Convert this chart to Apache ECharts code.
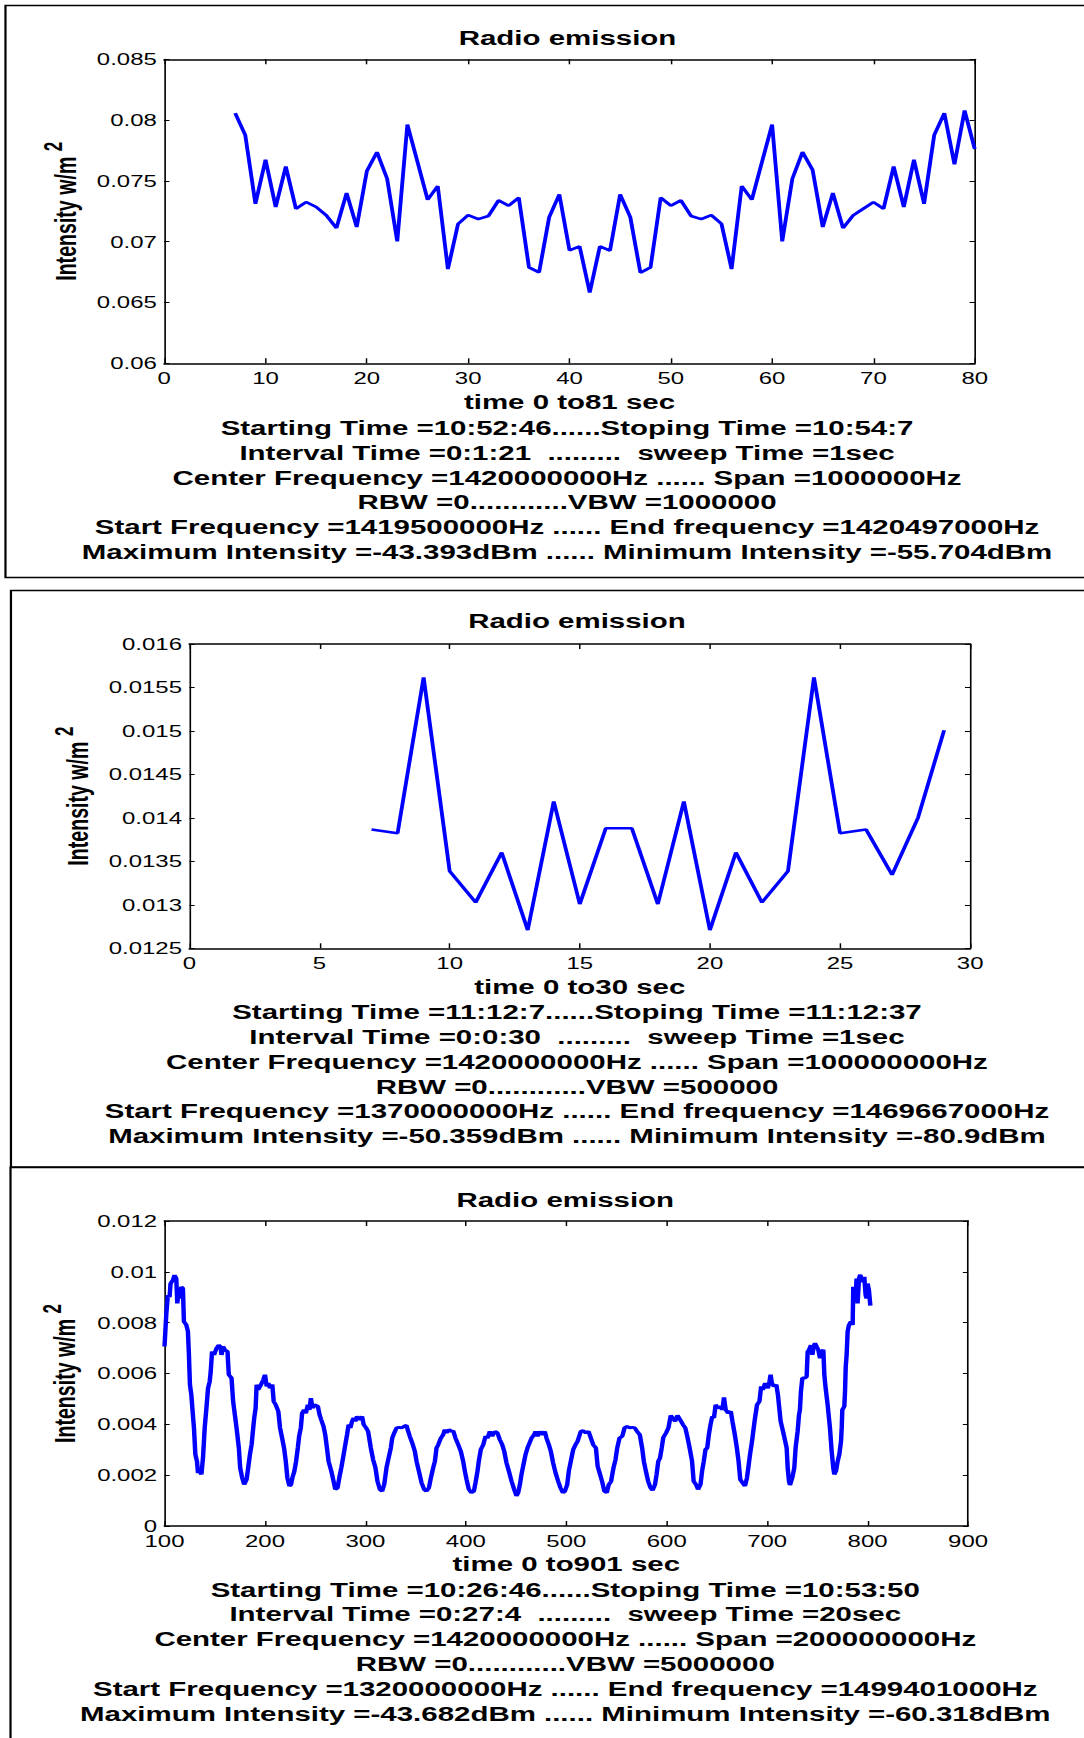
<!DOCTYPE html>
<html><head><meta charset="utf-8">
<script src="https://cdn.jsdelivr.net/npm/echarts@6/dist/echarts.min.js"></script>
<style>
html,body{margin:0;padding:0;background:#fff;overflow:hidden;}
#chart{width:732px;height:1738px;transform:scaleX(1.4809);transform-origin:0 0;}
</style></head><body><div id="chart"></div>
<script>
// ---------- DATA ----------
const p1Time = [7,8,9,10,11,12,13,14,15,16,17,18,19,20,21,22,23,24,25,26,27,28,29,30,31,32,33,34,35,36,37,38,39,40,41,42,43,44,45,46,47,48,49,50,51,52,53,54,55,56,57,58,59,60,61,62,63,64,65,66,67,68,69,70,71,72,73,74,75,76,77,78,79,80];
const p1Intensity = [0.08058,0.07877,0.07312,0.07674,0.07285,0.07619,0.07271,0.07326,0.07285,0.07216,0.07112,0.07400,0.07121,0.07581,0.07737,0.07518,0.07003,0.07964,0.07655,0.07345,0.07458,0.06775,0.07145,0.07219,0.07186,0.07211,0.07340,0.07296,0.07362,0.06789,0.06748,0.07203,0.07389,0.06929,0.06962,0.06581,0.06962,0.06926,0.07389,0.07203,0.06745,0.06789,0.07362,0.07296,0.07340,0.07211,0.07186,0.07219,0.07148,0.06775,0.07458,0.07345,0.07655,0.07964,0.07003,0.07518,0.07737,0.07589,0.07121,0.07400,0.07112,0.07216,0.07271,0.07326,0.07271,0.07619,0.07285,0.07674,0.07312,0.07877,0.08058,0.07636,0.08079,0.07762];

const p2Time = [7,8,9,10,11,12,13,14,15,16,17,18,19,20,21,22,23,24,25,26,27,28,29];
const p2Intensity = [0.013866,0.013824,0.015617,0.013387,0.013027,0.013602,0.012709,0.014188,0.013008,0.013881,0.013881,0.013008,0.014188,0.012709,0.013602,0.013027,0.013387,0.015617,0.013824,0.013866,0.013345,0.014004,0.015008];

const p3Time = [100,101.7,103.3,105,106,108.3,110,111.7,112.7,114,115.3,116.7,118.3,119.3,121.7,123.3,124.3,125.3,126.7,127.7,129.3,130.7,132.3,133.3,135,136.7,138.3,140,141.7,143.3,145,146,147.3,149.3,151.7,154,155.7,156.7,158.3,160,162.7,164,166.7,168.3,170,171.7,174,175.3,177.3,179.3,181.7,183.3,185,186.7,188.3,189.3,190.7,191.7,193.3,196,198.3,200,201.7,203.3,205,207.3,208.7,210.7,213.3,215,216.7,219,220.7,222.3,224.3,226,227.3,229.3,231,232.7,234,235.7,237,239,240.7,242.7,244.3,245.7,247.3,249.3,252.7,254.3,256,258.3,260,261.7,263.3,266,268.3,270,272.3,274,276,278.3,280,281.7,283.3,285,286.7,288.3,290,291.7,294,296.7,298.3,300.7,302.7,305.4,307.7,310,312,314.4,316.7,318.7,321,322.7,325.3,326.7,328.7,331,333.6,336,338.6,340.9,342.6,344.2,346.6,349.2,350.9,353.2,355.9,358.5,360.8,363.2,365.2,367.5,369.2,370.8,372.5,375.1,377.4,379.1,380.8,383.1,385.7,387.4,389.7,392.4,395,397.3,399,400.7,403,405.6,408,409.6,411.6,412.9,414.9,417.3,419.6,421.6,423.9,426.2,428.9,431.5,433.8,436.2,438.2,440.5,442.8,445.5,448.1,450.4,452.1,453.8,455.4,457.7,459.4,461.4,462.7,465.4,468,469.4,471.3,473.7,476,478.6,480.3,482.6,484.6,486.9,489.3,491.9,494.2,496.6,498.6,500.9,502.5,504.5,506.9,509.2,511.2,514.4,516.8,519.5,522.1,524.5,526.8,529.5,531.2,533.6,535.6,537.9,540.3,542.3,544.6,547,549,550.7,553,555.7,558,560.4,563.1,565.8,568.1,570.5,573.2,575.5,577.2,579.2,581.5,583.9,585.9,588.3,589.9,591.6,593.3,595,596.6,599.3,601.7,604,606,608.4,610.7,613.4,616.1,618.5,620.8,622.8,625.2,626.8,629.2,631.2,633.6,635.2,636.9,638.6,640.3,641.9,643.6,645.3,647,648.7,651,653.7,655.4,657,658.7,661.1,663.8,665.4,667.8,669.8,671.5,673.2,675.5,677.9,679.9,681.2,682.9,684.9,686.6,687.9,689.9,692.3,694,695.6,698,700.7,702.3,703.4,704.7,706.7,709.1,710.7,713.4,715.8,719.4,720.4,721.7,722.7,725,727,728.3,730.3,731.7,732.6,733.6,735,737.6,739.3,740.3,741.6,743.6,745,746.3,747.6,749.2,750.9,752.6,754.2,755.9,756.9,758.2,760.2,761.5,762.5,764.2,765.8,766.8,768.5,770.2,771.8,773.5,774.2,774.8,776.8,777.5,778.2,779.1,780.1,781.4,783.4,785.1,785.7,786.7,788.1,789,790,791.4,792.7,794,795.4,796.7,798,799,800,801.3,802.7];
const p3Intensity = [0.00706,0.0083,0.00908,0.0090,0.00954,0.00967,0.00987,0.00974,0.00876,0.00921,0.00895,0.00941,0.00935,0.00804,0.00791,0.00765,0.00673,0.00556,0.00516,0.00464,0.00386,0.00281,0.00255,0.00209,0.00216,0.00203,0.00268,0.00386,0.00464,0.00542,0.00569,0.00608,0.00686,0.00673,0.00699,0.00712,0.00706,0.00673,0.00706,0.00693,0.00686,0.00595,0.00582,0.0049,0.00438,0.00386,0.00307,0.00229,0.0019,0.00163,0.00183,0.00229,0.00281,0.0032,0.00386,0.00425,0.00464,0.00556,0.00536,0.00556,0.00575,0.00595,0.00549,0.00562,0.00542,0.00556,0.0049,0.00477,0.00451,0.00386,0.00353,0.00307,0.00255,0.0019,0.00157,0.00163,0.0019,0.00216,0.00255,0.00307,0.00353,0.00386,0.00444,0.00457,0.00444,0.00477,0.00457,0.00503,0.00464,0.00477,0.0047,0.00438,0.00418,0.00392,0.00359,0.00307,0.00255,0.00216,0.00176,0.00144,0.0015,0.0019,0.00229,0.00281,0.0032,0.00359,0.00399,0.00386,0.00412,0.00425,0.00412,0.00431,0.00418,0.00431,0.00399,0.00386,0.00372,0.00307,0.00261,0.00229,0.00176,0.00144,0.00137,0.00163,0.00229,0.00261,0.00307,0.00346,0.00366,0.00386,0.00388,0.00386,0.00392,0.00396,0.00372,0.00353,0.00327,0.00294,0.00255,0.00216,0.0017,0.00144,0.00137,0.0015,0.0019,0.00229,0.00255,0.00307,0.0032,0.00346,0.00359,0.00379,0.00366,0.00379,0.00372,0.00375,0.00346,0.0032,0.00294,0.00255,0.00216,0.00183,0.00144,0.00131,0.00137,0.0017,0.00216,0.00255,0.00301,0.0032,0.00353,0.00346,0.00372,0.00353,0.00372,0.00366,0.0034,0.0032,0.00294,0.00248,0.00216,0.00176,0.00144,0.00118,0.00131,0.00163,0.00203,0.00248,0.00281,0.00307,0.0032,0.00346,0.00359,0.00372,0.00353,0.00372,0.00359,0.00372,0.00346,0.0032,0.00294,0.00248,0.00209,0.00176,0.0015,0.00131,0.00137,0.00163,0.00216,0.00255,0.00301,0.0032,0.00333,0.00372,0.00375,0.00366,0.00372,0.00346,0.0032,0.00307,0.00235,0.00203,0.00176,0.00137,0.00131,0.00163,0.00176,0.00229,0.00261,0.00307,0.00346,0.00353,0.00386,0.00392,0.00386,0.00388,0.00386,0.00372,0.00359,0.00307,0.00255,0.00216,0.00176,0.0015,0.0014,0.00163,0.00203,0.00255,0.00268,0.00307,0.00349,0.00366,0.00386,0.00435,0.00425,0.00412,0.00435,0.00418,0.00399,0.00386,0.00346,0.00307,0.00255,0.00176,0.00163,0.00144,0.00163,0.00216,0.00255,0.00301,0.00307,0.00359,0.00399,0.00431,0.00425,0.00477,0.00464,0.0047,0.00457,0.00506,0.00457,0.00444,0.00451,0.00412,0.00359,0.00307,0.00255,0.00183,0.0017,0.00157,0.0019,0.00229,0.00281,0.00333,0.00386,0.00425,0.00477,0.0049,0.00549,0.00536,0.00562,0.00542,0.00569,0.00595,0.00562,0.00549,0.00556,0.00516,0.00412,0.00372,0.00307,0.00229,0.00176,0.00161,0.0019,0.00229,0.00307,0.00372,0.00438,0.00457,0.00529,0.00582,0.00582,0.00588,0.00686,0.00693,0.00712,0.00673,0.00706,0.00719,0.00706,0.00693,0.0066,0.00686,0.00693,0.00595,0.00542,0.00477,0.00425,0.00386,0.00294,0.00229,0.00203,0.00216,0.00255,0.00281,0.00333,0.00386,0.00457,0.0047,0.00529,0.00627,0.00673,0.00765,0.00791,0.00804,0.00791,0.00941,0.00921,0.00908,0.00974,0.00876,0.00974,0.00989,0.00967,0.00961,0.0098,0.00908,0.00895,0.00954,0.00928,0.00867];

const p1Axes = {xMin:0, xMax:80, xStep:10, yMin:0.06, yMax:0.085, yStep:0.005};
const p2Axes = {xMin:0, xMax:30, xStep:5, yMin:0.0125, yMax:0.016, yStep:0.0005};
const p3Axes = {xMin:100, xMax:900, xStep:100, yMin:0, yMax:0.012, yStep:0.002};

const chartTitle = 'Radio emission';
const yAxisTitle = 'Intensity w/m ';
const yAxisSup = '2';
const p1XTitle = 'time 0 to81 sec';
const p2XTitle = 'time 0 to30 sec';
const p3XTitle = 'time 0 to901 sec';
const p1Info = [
 'Starting Time =10:52:46......Stoping Time =10:54:7',
 'Interval Time =0:1:21  .........  sweep Time =1sec',
 'Center Frequency =1420000000Hz ...... Span =1000000Hz',
 'RBW =0............VBW =1000000',
 'Start Frequency =1419500000Hz ...... End frequency =1420497000Hz',
 'Maximum Intensity =-43.393dBm ...... Minimum Intensity =-55.704dBm'];
const p2Info = [
 'Starting Time =11:12:7......Stoping Time =11:12:37',
 'Interval Time =0:0:30  .........  sweep Time =1sec',
 'Center Frequency =1420000000Hz ...... Span =100000000Hz',
 'RBW =0............VBW =500000',
 'Start Frequency =1370000000Hz ...... End frequency =1469667000Hz',
 'Maximum Intensity =-50.359dBm ...... Minimum Intensity =-80.9dBm'];
const p3Info = [
 'Starting Time =10:26:46......Stoping Time =10:53:50',
 'Interval Time =0:27:4  .........  sweep Time =20sec',
 'Center Frequency =1420000000Hz ...... Span =200000000Hz',
 'RBW =0............VBW =5000000',
 'Start Frequency =1320000000Hz ...... End frequency =1499401000Hz',
 'Maximum Intensity =-43.682dBm ...... Minimum Intensity =-60.318dBm'];

// ---------- LAYOUT (unstretched coordinates; page is stretched horizontally by CSS) ----------
const FONT = "'Liberation Sans', Arial, Helvetica, sans-serif";
const BIG = 19.9, TICK = 16.2, YNAME = 19.6;
const panels = [
  {grid:{left:110.9, top:59.3, width:547.3, height:304}, axes:p1Axes, xName:p1XTitle, info:p1Info,
   titleX:383.2, titleTop:27.8, infoX:382.9, infoY:427.8, yNameGap:47, xNameGap:29,
   box:{x:3.7, y:5.5, w:900, h:572}, x:p1Time, y:p1Intensity, lw:2.6},
  {grid:{left:127.9, top:644, width:527.2, height:304.3}, axes:p2Axes, xName:p2XTitle, info:p2Info,
   titleX:389.6, titleTop:610.8, infoX:389.6, infoY:1012, yNameGap:55, xNameGap:28.3,
   box:{x:7.4, y:590.5, w:900, h:576.5}, x:p2Time, y:p2Intensity, lw:2.6},
  {grid:{left:111.1, top:1221, width:542.6, height:305}, axes:p3Axes, xName:p3XTitle, info:p3Info,
   titleX:381.7, titleTop:1189.4, infoX:381.7, infoY:1589.5, yNameGap:50, xNameGap:28.1,
   box:{x:7.1, y:1167.5, w:900, h:700}, x:p3Time, y:p3Intensity, lw:3}
];
const LINE_STEP = 24.8;

const grids = [], xAxes = [], yAxes = [], series = [], titles = [], graphics = [];
panels.forEach((p, i) => {
  grids.push(Object.assign({outerBoundsMode:'none', containLabel:false}, p.grid));
  const a = p.axes;
  const tickStyle = {color:'#000', width:1};
  xAxes.push({type:'value', gridIndex:i, position:'bottom', min:a.xMin, max:a.xMax, interval:a.xStep,
    axisLine:{show:true, onZero:false, lineStyle:{color:'#000', width:1.5}},
    axisTick:{show:true, inside:true, length:5, lineStyle:tickStyle},
    axisLabel:{show:true, margin:7, color:'#000', fontSize:TICK, fontFamily:FONT, showMinLabel:true, showMaxLabel:true},
    splitLine:{show:false},
    name:p.xName, nameLocation:'middle', nameGap:p.xNameGap,
    nameTextStyle:{color:'#000', fontSize:BIG, fontWeight:'bold', fontFamily:FONT}});
  xAxes.push({type:'value', gridIndex:i, position:'top', min:a.xMin, max:a.xMax, interval:a.xStep,
    axisLine:{show:true, onZero:false, lineStyle:{color:'#000', width:1.5}},
    axisTick:{show:true, inside:true, length:5, lineStyle:tickStyle},
    axisLabel:{show:false}, splitLine:{show:false}});
  yAxes.push({type:'value', gridIndex:i, position:'left', min:a.yMin, max:a.yMax, interval:a.yStep,
    axisLine:{show:true, onZero:false, lineStyle:{color:'#000', width:1.1}},
    axisTick:{show:true, inside:true, length:3.5, lineStyle:tickStyle},
    axisLabel:{show:true, margin:5, color:'#000', fontSize:TICK, fontFamily:FONT, showMinLabel:true, showMaxLabel:true},
    splitLine:{show:false},
    name:'{a|' + yAxisTitle + '}{b|' + yAxisSup + '}', nameLocation:'middle', nameGap:p.yNameGap, nameRotate:90,
    nameTextStyle:{rich:{
      a:{fontSize:YNAME, fontWeight:'bold', fontFamily:FONT, color:'#000', lineHeight:34},
      b:{fontSize:17, fontWeight:'bold', fontFamily:FONT, color:'#000', lineHeight:17, verticalAlign:'top'}}}});
  yAxes.push({type:'value', gridIndex:i, position:'right', min:a.yMin, max:a.yMax, interval:a.yStep,
    axisLine:{show:true, onZero:false, lineStyle:{color:'#000', width:1.1}},
    axisTick:{show:true, inside:true, length:3.5, lineStyle:tickStyle},
    axisLabel:{show:false}, splitLine:{show:false}});
  series.push({type:'line', xAxisIndex:2*i, yAxisIndex:2*i, showSymbol:false, symbol:'none', smooth:false,
    lineStyle:{color:'#0000ff', width:p.lw}, itemStyle:{color:'#0000ff'},
    data:p.x.map((t, k) => [t, p.y[k]])});
  titles.push({text:chartTitle, left:p.titleX, top:p.titleTop, textAlign:'center', padding:0,
    textStyle:{color:'#000', fontSize:BIG, fontWeight:'bold', fontFamily:FONT}});
  graphics.push({type:'rect', silent:true, z:-1, shape:{x:p.box.x, y:p.box.y, width:p.box.w, height:p.box.h},
    style:{fill:'none', stroke:'#000', lineWidth:1.5}});
  p.info.forEach((line, k) => {
    graphics.push({type:'text', silent:true, x:p.infoX, y:p.infoY + k*LINE_STEP,
      style:{text:line, fill:'#000', font:'bold ' + BIG + 'px ' + FONT, fontSize:BIG, fontWeight:'bold', fontFamily:FONT,
        align:'center', verticalAlign:'middle', textAlign:'center', textVerticalAlign:'middle'}});
  });
});

const chart = echarts.init(document.getElementById('chart'), null, {renderer:'svg'});
chart.setOption({
  animation:false, backgroundColor:'#fff',
  title:titles, grid:grids, xAxis:xAxes, yAxis:yAxes, series:series,
  graphic:{elements:graphics}
});
</script></body></html>
